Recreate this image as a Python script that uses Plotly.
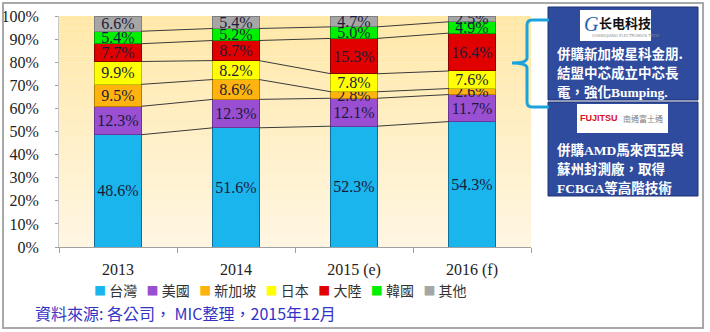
import plotly.graph_objects as go

# Market share of OSAT providers by headquarters region (%)
years = ["2013", "2014", "2015 (e)", "2016 (f)"]
regions = ["台灣", "美國", "新加坡", "日本", "大陸", "韓國", "其他"]
taiwan = [48.6, 51.6, 52.3, 54.3]
usa = [12.3, 12.3, 12.1, 11.7]
singapore = [9.5, 8.6, 2.8, 2.6]
japan = [9.9, 8.2, 7.8, 7.6]
china = [7.7, 8.7, 15.3, 16.4]
korea = [5.4, 5.2, 5.0, 4.9]
others = [6.6, 5.4, 4.7, 2.5]
y_ticks = [0, 10, 20, 30, 40, 50, 60, 70, 80, 90, 100]

series = [taiwan, usa, singapore, japan, china, korea, others]
colors = ["#19B5EC", "#9A4FD2", "#FFB30F", "#FFFF00", "#E10000", "#00F000", "#A6A6A6"]
edge_colors = ["#0E6F9A", "#6A3595", "#B88000", "#C0C000", "#8A0000", "#00A000", "#808080"]

# plot-area placement in pixels (710 x 332 canvas)
W, H = 710, 332
PL, PR, PT, PB = 59, 531, 16, 247


def px2x(px):
    return (px - PL) / (PR - PL)


def py2y(py):
    return (PB - py) / (PB - PT)


bar_w = 0.39
xs = list(range(len(years)))

fig = go.Figure()

for name, vals, col, ecol in zip(regions, series, colors, edge_colors):
    fig.add_trace(go.Bar(
        x=xs, y=vals, name=name, width=bar_w, showlegend=False,
        marker=dict(color=col, line=dict(color=ecol, width=1)),
        text=[f"{v:.1f}%" for v in vals],
        textposition="inside", insidetextanchor="middle", textangle=0,
        textfont=dict(family="Liberation Serif", size=16, color="#1B1B3A"),
        hoverinfo="skip",
    ))

# series lines joining the segment boundaries of neighbouring bars
cum = [0.0] * len(years)
for vals in series[:-1]:
    cum = [c + v for c, v in zip(cum, vals)]
    lx, ly = [], []
    for i in range(len(years) - 1):
        lx += [xs[i] + bar_w / 2, xs[i + 1] - bar_w / 2, None]
        ly += [cum[i], cum[i + 1], None]
    fig.add_trace(go.Scatter(
        x=lx, y=ly, mode="lines", showlegend=False, hoverinfo="skip",
        line=dict(color="#3A3A3A", width=1),
    ))

shapes = []
# soft vertical gradient behind the plot area
top_rgb, bot_rgb = (255, 232, 168), (255, 246, 226)
n_bands = 40
for k in range(n_bands):
    t = k / (n_bands - 1)
    c = tuple(round(a + (b - a) * t) for a, b in zip(top_rgb, bot_rgb))
    shapes.append(dict(type="rect", xref="paper", yref="paper", layer="below",
                       x0=0, x1=1, y0=1 - (k + 1) / n_bands, y1=1 - k / n_bands,
                       fillcolor=f"rgb{c}", line=dict(width=0)))

# outer frame
shapes.append(dict(type="rect", xref="paper", yref="paper",
                   x0=px2x(3), x1=px2x(703), y0=py2y(328), y1=py2y(3),
                   line=dict(color="#A8A8A8", width=2), fillcolor="rgba(0,0,0,0)"))

# callout boxes on the right
box_fill, box_edge = "#2F4B9D", "#1E3272"
for top, bottom in [(7, 100), (102, 196)]:
    shapes.append(dict(type="rect", xref="paper", yref="paper",
                       x0=px2x(548), x1=px2x(698), y0=py2y(bottom), y1=py2y(top),
                       fillcolor=box_fill, line=dict(color=box_edge, width=1)))
shapes.append(dict(type="rect", xref="paper", yref="paper",
                   x0=px2x(580), x1=px2x(651), y0=py2y(41), y1=py2y(10),
                   fillcolor="white", line=dict(width=0)))
shapes.append(dict(type="rect", xref="paper", yref="paper",
                   x0=px2x(577), x1=px2x(668), y0=py2y(133), y1=py2y(104),
                   fillcolor="white", line=dict(width=0)))

# curly brace pointing at the China segment
bx, tipx, ytop, ybot, ymid, arm = 527, 512, 20, 107, 63, 549
brace = (f"M {px2x(arm)} {py2y(ytop)} L {px2x(bx + 5)} {py2y(ytop)} "
         f"Q {px2x(bx)} {py2y(ytop)} {px2x(bx)} {py2y(ytop + 5)} "
         f"L {px2x(bx)} {py2y(ymid - 5)} "
         f"Q {px2x(bx)} {py2y(ymid)} {px2x(tipx)} {py2y(ymid)} "
         f"Q {px2x(bx)} {py2y(ymid)} {px2x(bx)} {py2y(ymid + 5)} "
         f"L {px2x(bx)} {py2y(ybot - 5)} "
         f"Q {px2x(bx)} {py2y(ybot)} {px2x(bx + 5)} {py2y(ybot)} "
         f"L {px2x(arm)} {py2y(ybot)}")
shapes.append(dict(type="path", xref="paper", yref="paper", path=brace,
                   line=dict(color="#1CA3DC", width=3)))

ann = []
white_font = dict(family="Noto Sans CJK TC", size=13.5, color="white", weight="bold")
serif = '<span style="font-family:Liberation Serif">'
box_lines = [("併購新加坡星科金朋.", 53), ("結盟中芯成立中芯長", 72),
             (f"電，強化{serif}Bumping.</span>", 91),
             (f"併購{serif}AMD</span>馬來西亞與", 149), ("蘇州封測廠，取得", 168),
             (f"{serif}FCBGA</span>等高階技術", 187)]
for txt, py in box_lines:
    ann.append(dict(x=px2x(555), y=py2y(py), xref="paper", yref="paper", text=txt,
                    showarrow=False, xanchor="left", yanchor="middle", font=white_font))

# logos
ann.append(dict(x=px2x(591), y=py2y(24), xref="paper", yref="paper", text="<i>G</i>",
                showarrow=False, xanchor="center", yanchor="middle",
                font=dict(family="Liberation Serif", size=20, color="#1F5FB0")))
ann.append(dict(x=px2x(625), y=py2y(22), xref="paper", yref="paper", text="长电科技",
                showarrow=False, xanchor="center", yanchor="middle",
                font=dict(family="Noto Sans CJK SC", size=13, color="#111111", weight="bold")))
ann.append(dict(x=px2x(625), y=py2y(35), xref="paper", yref="paper",
                text="CHANGJIANG ELECTRONICS TECH", showarrow=False,
                xanchor="center", yanchor="middle",
                font=dict(family="DejaVu Sans", size=4, color="#909090")))
ann.append(dict(x=px2x(599), y=py2y(118), xref="paper", yref="paper", text="FUJITSU",
                showarrow=False, xanchor="center", yanchor="middle",
                font=dict(family="Liberation Sans", size=9, color="#D8101C",
                          weight="bold")))
ann.append(dict(x=px2x(643), y=py2y(118), xref="paper", yref="paper", text="南通富士通",
                showarrow=False, xanchor="center", yanchor="middle",
                font=dict(family="Noto Sans CJK TC", size=8, color="#808080")))

# legend row: colored swatch followed by the region name
legend_items = [f'<span style="color:{c};font-size:12px">■</span> {r}'
                for r, c in zip(regions, colors)]
ann.append(dict(x=px2x(280), y=py2y(290), xref="paper", yref="paper",
                text="&nbsp;&nbsp;&nbsp;".join(legend_items), showarrow=False,
                xanchor="center", yanchor="middle",
                font=dict(family="Noto Sans CJK TC", size=14, color="#333333")))

# source note
ann.append(dict(x=px2x(33), y=py2y(313), xref="paper", yref="paper",
                text="資料來源: 各公司， MIC整理，2015年12月", showarrow=False,
                xanchor="left", yanchor="middle",
                font=dict(family="Noto Sans CJK TC", size=16, color="#3333C4")))

fig.update_layout(
    width=W, height=H,
    margin=dict(l=PL, r=W - PR, t=PT, b=H - PB, pad=0),
    barmode="stack",
    paper_bgcolor="white",
    plot_bgcolor="rgb(255,246,226)",
    uniformtext=dict(minsize=16, mode="show"),
    shapes=shapes,
    annotations=ann,
    showlegend=False,
    xaxis=dict(
        range=[-0.5, len(years) - 0.5], tickmode="array", tickvals=xs, ticktext=years,
        ticks="", showline=True, linecolor="#A0A0A0", linewidth=1, showgrid=False,
        zeroline=False, fixedrange=True, ticklabelstandoff=8, automargin=False,
        tickfont=dict(family="Liberation Serif", size=16, color="#222222"),
        minor=dict(tickmode="array", tickvals=[i - 0.5 for i in range(len(years) + 1)],
                   ticks="outside", ticklen=5, tickcolor="#A0A0A0", showgrid=False),
    ),
    yaxis=dict(
        range=[0, 100], tickmode="array", tickvals=y_ticks,
        ticktext=[f"{v}%" for v in y_ticks],
        ticks="outside", ticklen=3, tickcolor="#A0A0A0", showline=True,
        linecolor="#C8C8C8", showgrid=False, zeroline=False, fixedrange=True,
        ticklabelstandoff=13, automargin=False,
        tickfont=dict(family="Liberation Serif", size=16, color="#222222"),
    ),
)

fig.write_html("out.html")
